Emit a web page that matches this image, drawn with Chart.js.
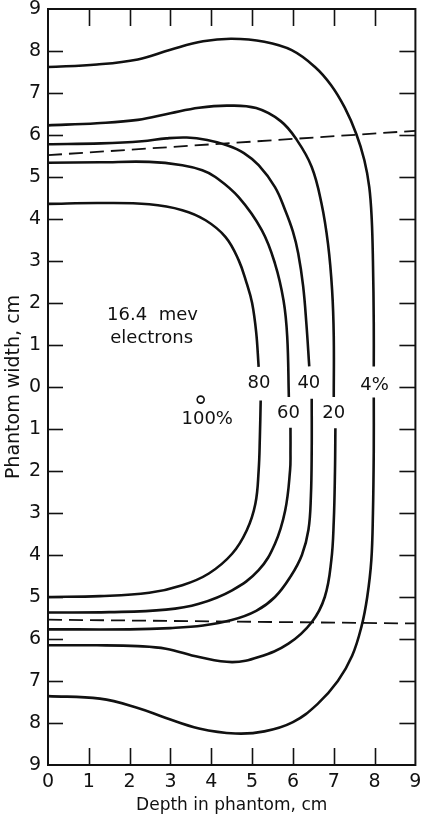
<!DOCTYPE html>
<html>
<head>
<meta charset="utf-8">
<script src="https://cdn.jsdelivr.net/npm/chart.js@4.4.1/dist/chart.umd.min.js"></script>
<style>
  html, body { margin: 0; padding: 0; background: #fff; }
  canvas { display: block; }
</style>
</head>
<body>
<canvas id="dose" width="421" height="818"></canvas>
<script>
// isodose curves, [depth cm, width cm]; upper half positive, lower half negative
// each curve is split in two where its label sits
const iso80Upper = [[0,4.36],[1.27,4.38],[2.48,4.35],[3.29,4.21],[3.86,3.97],[4.35,3.57],[4.67,3.02],[4.87,2.46],[5.0,2.0],[5.1,1.3],[5.16,0.48]];
const iso80Lower = [[5.21,-0.32],[5.19,-1.2],[5.16,-1.99],[5.08,-2.78],[4.87,-3.41],[4.51,-3.97],[3.94,-4.44],[3.29,-4.72],[2.48,-4.9],[1.27,-4.98],[0,-5.0]];
const iso60Upper = [[0,5.34],[1.27,5.35],[2.48,5.36],[3.29,5.28],[3.78,5.16],[4.1,5.0],[4.67,4.52],[5.24,3.73],[5.56,2.94],[5.77,2.06],[5.86,1.2],[5.9,-0.24]];
const iso60Lower = [[5.94,-0.97],[5.94,-1.5],[5.93,-1.98],[5.81,-2.94],[5.56,-3.73],[5.16,-4.36],[4.51,-4.84],[3.7,-5.16],[2.89,-5.3],[1.5,-5.36],[0,-5.37]];
const iso40Upper = [[0,5.78],[1.3,5.8],[2.3,5.85],[2.9,5.92],[3.4,5.94],[3.9,5.88],[4.4,5.75],[4.8,5.57],[5.16,5.28],[5.56,4.76],[5.81,4.21],[6.0,3.7],[6.13,3.18],[6.25,2.4],[6.33,1.5],[6.4,0.49]];
const iso40Lower = [[6.46,-0.28],[6.46,-1.5],[6.44,-2.6],[6.38,-3.4],[6.22,-4.0],[5.95,-4.5],[5.56,-5.0],[5.1,-5.33],[4.5,-5.55],[3.8,-5.68],[3.0,-5.74],[2.0,-5.77],[0,-5.77]];
const iso20Upper = [[0,6.23],[1.2,6.28],[2.2,6.36],[3.0,6.52],[3.7,6.65],[4.4,6.7],[5.1,6.64],[5.7,6.33],[6.09,5.89],[6.46,5.24],[6.7,4.37],[6.86,3.4],[6.96,2.3],[7.0,1.2],[7.0,-0.24]];
const iso20Lower = [[7.04,-0.98],[7.03,-2.0],[7.0,-3.2],[6.94,-4.13],[6.78,-5.0],[6.46,-5.6],[5.89,-6.11],[5.16,-6.43],[4.51,-6.55],[3.7,-6.43],[2.89,-6.23],[2.2,-6.17],[1.2,-6.15],[0,-6.15]];
const iso4Upper = [[0,7.62],[1.2,7.68],[2.2,7.8],[3.0,8.03],[3.8,8.23],[4.5,8.29],[5.3,8.22],[5.97,8.02],[6.54,7.62],[6.94,7.18],[7.27,6.65],[7.55,6.03],[7.75,5.4],[7.87,4.76],[7.93,4.0],[7.96,3.0],[7.98,1.5],[7.98,0.49]];
const iso4Lower = [[7.98,-0.25],[7.98,-1.5],[7.96,-3.0],[7.92,-4.13],[7.82,-5.0],[7.68,-5.7],[7.45,-6.4],[7.1,-7.0],[6.6,-7.55],[6.0,-7.98],[5.3,-8.2],[4.59,-8.25],[3.7,-8.13],[2.89,-7.88],[2.2,-7.64],[1.27,-7.42],[0,-7.36]];

// beam edge (dashed)
const edgeUpper = [[0,5.52],[9,6.1]];
const edgeLower = [[0,-5.54],[9,-5.63]];

// 100% point
const maxPoint = [[3.74,-0.3]];

const xTicks = [0,1,2,3,4,5,6,7,8,9];
const yRange = [-9, 9];

// text placed on the plot, in data units
const notes = [
  { text: '80', x: 5.17, y: 0.08 },
  { text: '40', x: 6.39, y: 0.08 },
  { text: '4%', x: 8.0, y: 0.04 },
  { text: '60', x: 5.89, y: -0.63 },
  { text: '20', x: 7.0, y: -0.63 },
  { text: '100%', x: 3.9, y: -0.78 },
  { text: '16.4  mev', x: 2.56, y: 1.71 },
  { text: 'electrons', x: 2.54, y: 1.15 }
];

const INK = '#111';
const FONT = '"DejaVu Sans", "Liberation Sans", sans-serif';
Chart.defaults.font.family = FONT;
Chart.defaults.color = INK;

const curve = data => ({ data, showLine: true, borderColor: INK, borderWidth: 2.6, tension: 0.4, pointRadius: 0, fill: false });
const dashed = data => ({ data, showLine: true, borderColor: INK, borderWidth: 1.8, borderDash: [14, 7], tension: 0, pointRadius: 0, fill: false });

// frame, inward tick marks and the text notes
const overlay = {
  id: 'overlay',
  afterDatasetsDraw(chart) {
    const { ctx, chartArea: a, scales: { x, y } } = chart;
    const seg = (x1, y1, x2, y2) => { ctx.beginPath(); ctx.moveTo(x1, y1); ctx.lineTo(x2, y2); ctx.stroke(); };
    ctx.save();
    ctx.strokeStyle = INK;
    ctx.lineWidth = 1.6;
    y.ticks.forEach(t => {
      if (Math.abs(t.value) === 9) return;
      const py = Math.round(y.getPixelForValue(t.value)) + 0.5;
      seg(a.left, py, a.left + 15, py);
      seg(a.right - 16, py, a.right, py);
    });
    x.ticks.forEach(t => {
      if (t.value === 0 || t.value === 9) return;
      const px = Math.round(x.getPixelForValue(t.value)) + 0.5;
      seg(px, a.top, px, a.top + 17);
      seg(px, a.bottom - 17, px, a.bottom);
    });
    ctx.lineWidth = 2;
    ctx.strokeRect(a.left, a.top, a.right - a.left, a.bottom - a.top);

    ctx.fillStyle = INK;
    ctx.font = '18px ' + FONT;
    ctx.textAlign = 'center';
    ctx.textBaseline = 'middle';
    notes.forEach(n => ctx.fillText(n.text, x.getPixelForValue(n.x), y.getPixelForValue(n.y)));
    ctx.restore();
  }
};

new Chart(document.getElementById('dose'), {
  type: 'scatter',
  data: {
    datasets: [
      curve(iso80Upper), curve(iso80Lower),
      curve(iso60Upper), curve(iso60Lower),
      curve(iso40Upper), curve(iso40Lower),
      curve(iso20Upper), curve(iso20Lower),
      curve(iso4Upper), curve(iso4Lower),
      dashed(edgeUpper), dashed(edgeLower),
      { data: maxPoint, pointRadius: 3.5, pointBackgroundColor: '#fff', pointBorderColor: INK, pointBorderWidth: 1.6, showLine: false }
    ]
  },
  options: {
    responsive: false,
    animation: false,
    devicePixelRatio: 1,
    layout: { padding: { top: 9, right: 3, left: 0, bottom: 0 } },
    plugins: { legend: { display: false }, tooltip: { enabled: false } },
    scales: {
      x: {
        type: 'linear', min: 0, max: 9,
        afterBuildTicks: s => { s.ticks = xTicks.map(v => ({ value: v })); },
        afterFit: s => { s.height = 53; s.paddingLeft = 0; s.paddingRight = 0; },
        grid: { display: false, drawTicks: false }, border: { display: false },
        ticks: { padding: 6, font: { size: 19 }, color: INK },
        title: { display: true, text: 'Depth in phantom, cm', font: { size: 17 }, color: INK, padding: { top: 0, bottom: 2 } }
      },
      y: {
        type: 'linear', min: yRange[0], max: yRange[1],
        ticks: { stepSize: 1, padding: 7, font: { size: 19 }, color: INK, callback: v => Math.abs(v) },
        afterFit: s => { s.width = 48; s.paddingTop = 0; s.paddingBottom = 0; },
        grid: { display: false, drawTicks: false }, border: { display: false },
        title: { display: true, text: 'Phantom width, cm', font: { size: 19 }, color: INK, padding: { top: 3, bottom: 0 } }
      }
    }
  },
  plugins: [overlay]
});
</script>
</body>
</html>
